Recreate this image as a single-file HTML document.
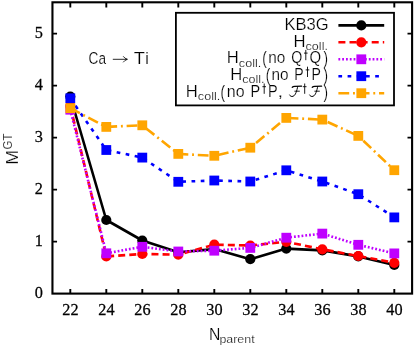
<!DOCTYPE html><html><head><meta charset="utf-8"><style>html,body{margin:0;padding:0;background:#fff}svg{display:block}text{font-family:"Liberation Sans",sans-serif;fill:#000;font-kerning:none;stroke:#fff;stroke-width:0.22px}.s{font-family:"Liberation Serif",serif;stroke:#000;stroke-width:0.25px}</style></head><body>
<svg width="415" height="348" viewBox="0 0 415 348">
<rect width="415" height="348" fill="#fff"/>
<path d="M70.3 293.6v-4.7M70.3 2.3v5.1M106.3 293.6v-4.7M106.3 2.3v5.1M142.3 293.6v-4.7M142.3 2.3v5.1M178.3 293.6v-4.7M178.3 2.3v5.1M214.3 293.6v-4.7M214.3 2.3v5.1M250.3 293.6v-4.7M250.3 2.3v5.1M286.3 293.6v-4.7M286.3 2.3v5.1M322.3 293.6v-4.7M322.3 2.3v5.1M358.3 293.6v-4.7M358.3 2.3v5.1M394.3 293.6v-4.7M394.3 2.3v5.1M52.45 241.6h4.6M412.1 241.6h-4.6M52.45 189.6h4.6M412.1 189.6h-4.6M52.45 137.6h4.6M412.1 137.6h-4.6M52.45 85.6h4.6M412.1 85.6h-4.6M52.45 33.6h4.6M412.1 33.6h-4.6" stroke="#000" stroke-width="1.9" fill="none"/>
<polyline points="70.3,96.5 106.3,220.0 142.3,240.5 178.3,252.2 214.3,249.1 250.3,259.2 286.3,248.6 322.3,250.4 358.3,256.4 394.3,265.0" fill="none" stroke="#000" stroke-width="2.6" stroke-linejoin="round"/>
<circle cx="70.3" cy="96.5" r="5.1" fill="#000"/>
<circle cx="106.3" cy="220.0" r="5.1" fill="#000"/>
<circle cx="142.3" cy="240.5" r="5.1" fill="#000"/>
<circle cx="178.3" cy="252.2" r="5.1" fill="#000"/>
<circle cx="214.3" cy="249.1" r="5.1" fill="#000"/>
<circle cx="250.3" cy="259.2" r="5.1" fill="#000"/>
<circle cx="286.3" cy="248.6" r="5.1" fill="#000"/>
<circle cx="322.3" cy="250.4" r="5.1" fill="#000"/>
<circle cx="358.3" cy="256.4" r="5.1" fill="#000"/>
<circle cx="394.3" cy="265.0" r="5.1" fill="#000"/>
<polyline points="70.3,106.1 106.3,256.4 142.3,254.0 178.3,254.6 214.3,244.7 250.3,245.5 286.3,241.8 322.3,249.3 358.3,256.0 394.3,262.8" fill="none" stroke="#ff0000" stroke-width="2.6" stroke-dasharray="7 4.1" stroke-linejoin="round"/>
<circle cx="70.3" cy="106.1" r="5.1" fill="#ff0000"/>
<circle cx="106.3" cy="256.4" r="5.1" fill="#ff0000"/>
<circle cx="142.3" cy="254.0" r="5.1" fill="#ff0000"/>
<circle cx="178.3" cy="254.6" r="5.1" fill="#ff0000"/>
<circle cx="214.3" cy="244.7" r="5.1" fill="#ff0000"/>
<circle cx="250.3" cy="245.5" r="5.1" fill="#ff0000"/>
<circle cx="286.3" cy="241.8" r="5.1" fill="#ff0000"/>
<circle cx="322.3" cy="249.3" r="5.1" fill="#ff0000"/>
<circle cx="358.3" cy="256.0" r="5.1" fill="#ff0000"/>
<circle cx="394.3" cy="262.8" r="5.1" fill="#ff0000"/>
<polyline points="70.3,109.7 106.3,253.3 142.3,246.8 178.3,251.5 214.3,250.7 250.3,247.9 286.3,237.7 322.3,233.6 358.3,244.8 394.3,253.4" fill="none" stroke="#bf00ff" stroke-width="2.6" stroke-dasharray="1.8 2.0" stroke-linejoin="round"/>
<rect x="65.4" y="104.8" width="9.8" height="9.8" fill="#bf00ff"/>
<rect x="101.4" y="248.4" width="9.8" height="9.8" fill="#bf00ff"/>
<rect x="137.4" y="241.9" width="9.8" height="9.8" fill="#bf00ff"/>
<rect x="173.4" y="246.6" width="9.8" height="9.8" fill="#bf00ff"/>
<rect x="209.4" y="245.8" width="9.8" height="9.8" fill="#bf00ff"/>
<rect x="245.4" y="243.0" width="9.8" height="9.8" fill="#bf00ff"/>
<rect x="281.4" y="232.8" width="9.8" height="9.8" fill="#bf00ff"/>
<rect x="317.4" y="228.7" width="9.8" height="9.8" fill="#bf00ff"/>
<rect x="353.4" y="239.9" width="9.8" height="9.8" fill="#bf00ff"/>
<rect x="389.4" y="248.5" width="9.8" height="9.8" fill="#bf00ff"/>
<polyline points="70.3,98.3 106.3,150.0 142.3,157.6 178.3,181.8 214.3,180.5 250.3,181.5 286.3,170.3 322.3,181.5 358.3,194.2 394.3,217.4" fill="none" stroke="#0000ff" stroke-width="2.6" stroke-dasharray="3.7 5.5" stroke-linejoin="round"/>
<rect x="65.4" y="93.4" width="9.8" height="9.8" fill="#0000ff"/>
<rect x="101.4" y="145.1" width="9.8" height="9.8" fill="#0000ff"/>
<rect x="137.4" y="152.7" width="9.8" height="9.8" fill="#0000ff"/>
<rect x="173.4" y="176.9" width="9.8" height="9.8" fill="#0000ff"/>
<rect x="209.4" y="175.6" width="9.8" height="9.8" fill="#0000ff"/>
<rect x="245.4" y="176.6" width="9.8" height="9.8" fill="#0000ff"/>
<rect x="281.4" y="165.4" width="9.8" height="9.8" fill="#0000ff"/>
<rect x="317.4" y="176.6" width="9.8" height="9.8" fill="#0000ff"/>
<rect x="353.4" y="189.3" width="9.8" height="9.8" fill="#0000ff"/>
<rect x="389.4" y="212.5" width="9.8" height="9.8" fill="#0000ff"/>
<polyline points="70.3,108.2 106.3,126.9 142.3,125.3 178.3,153.9 214.3,155.8 250.3,147.7 286.3,117.9 322.3,119.6 358.3,135.9 394.3,170.2" fill="none" stroke="#ffa500" stroke-width="2.6" stroke-dasharray="10.8 3.8 1.9 3.8" stroke-linejoin="round"/>
<rect x="65.4" y="103.3" width="9.8" height="9.8" fill="#ffa500"/>
<rect x="101.4" y="122.0" width="9.8" height="9.8" fill="#ffa500"/>
<rect x="137.4" y="120.4" width="9.8" height="9.8" fill="#ffa500"/>
<rect x="173.4" y="149.0" width="9.8" height="9.8" fill="#ffa500"/>
<rect x="209.4" y="150.9" width="9.8" height="9.8" fill="#ffa500"/>
<rect x="245.4" y="142.8" width="9.8" height="9.8" fill="#ffa500"/>
<rect x="281.4" y="113.0" width="9.8" height="9.8" fill="#ffa500"/>
<rect x="317.4" y="114.7" width="9.8" height="9.8" fill="#ffa500"/>
<rect x="353.4" y="131.0" width="9.8" height="9.8" fill="#ffa500"/>
<rect x="389.4" y="165.3" width="9.8" height="9.8" fill="#ffa500"/>
<rect x="52.45" y="2.3" width="359.65000000000003" height="291.3" fill="none" stroke="#000" stroke-width="2.1"/>
<rect x="175.9" y="12.8" width="218.1" height="92.6" fill="#fff" stroke="#000" stroke-width="1.8"/>
<path d="M338.4 25.4H384.2" stroke="#000" stroke-width="2.6" fill="none"/>
<circle cx="361.3" cy="25.4" r="5.1" fill="#000"/>
<path d="M338.4 42.3H384.2" stroke="#ff0000" stroke-width="2.6" stroke-dasharray="7 4.1" fill="none"/>
<circle cx="361.3" cy="42.3" r="5.1" fill="#ff0000"/>
<path d="M338.4 59.3H384.2" stroke="#bf00ff" stroke-width="2.6" stroke-dasharray="1.8 2.0" fill="none"/>
<rect x="356.4" y="54.4" width="9.8" height="9.8" fill="#bf00ff"/>
<path d="M338.4 76.25H384.2" stroke="#0000ff" stroke-width="2.6" stroke-dasharray="3.7 5.5" fill="none"/>
<rect x="356.4" y="71.3" width="9.8" height="9.8" fill="#0000ff"/>
<path d="M338.4 93.2H384.2" stroke="#ffa500" stroke-width="2.6" stroke-dasharray="10.8 3.8 1.9 3.8" fill="none"/>
<rect x="356.4" y="88.3" width="9.8" height="9.8" fill="#ffa500"/>
<g opacity="0.999">
<text class="s" transform="translate(70.4,314.8) scale(1.03,1)" font-size="15.8" text-anchor="middle">22</text>
<text class="s" transform="translate(106.4,314.8) scale(1.03,1)" font-size="15.8" text-anchor="middle">24</text>
<text class="s" transform="translate(142.4,314.8) scale(1.03,1)" font-size="15.8" text-anchor="middle">26</text>
<text class="s" transform="translate(178.4,314.8) scale(1.03,1)" font-size="15.8" text-anchor="middle">28</text>
<text class="s" transform="translate(214.4,314.8) scale(1.03,1)" font-size="15.8" text-anchor="middle">30</text>
<text class="s" transform="translate(250.4,314.8) scale(1.03,1)" font-size="15.8" text-anchor="middle">32</text>
<text class="s" transform="translate(286.4,314.8) scale(1.03,1)" font-size="15.8" text-anchor="middle">34</text>
<text class="s" transform="translate(322.4,314.8) scale(1.03,1)" font-size="15.8" text-anchor="middle">36</text>
<text class="s" transform="translate(358.4,314.8) scale(1.03,1)" font-size="15.8" text-anchor="middle">38</text>
<text class="s" transform="translate(394.4,314.8) scale(1.03,1)" font-size="15.8" text-anchor="middle">40</text>
<text class="s" transform="translate(42.9,298.2) scale(1.03,1)" font-size="15.8" text-anchor="end">0</text>
<text class="s" transform="translate(42.9,246.2) scale(1.03,1)" font-size="15.8" text-anchor="end">1</text>
<text class="s" transform="translate(42.9,194.2) scale(1.03,1)" font-size="15.8" text-anchor="end">2</text>
<text class="s" transform="translate(42.9,142.2) scale(1.03,1)" font-size="15.8" text-anchor="end">3</text>
<text class="s" transform="translate(42.9,90.2) scale(1.03,1)" font-size="15.8" text-anchor="end">4</text>
<text class="s" transform="translate(42.9,38.2) scale(1.03,1)" font-size="15.8" text-anchor="end">5</text>
<text transform="translate(88.61,64.1) scale(0.800,1)" font-size="17">Ca</text>
<path d="M112.8 59.3H127.2M123.2 56.3Q124.8 58.6 127.4 59.3Q124.8 60 123.2 62.3" stroke="#000" stroke-width="0.85" fill="none"/>
<text transform="translate(133.79,64.1) scale(1.076,1)" font-size="17">Ti</text>
<text transform="translate(208.91,340.1) scale(0.927,1)" font-size="17">N</text>
<text transform="translate(219.40,342.6) scale(1.174,1)" font-size="10.6">parent</text>
<g transform="translate(17.5,163.2) rotate(-90)">
<text transform="translate(-1.46,0) scale(1.046,1)" font-size="17">M</text>
<text transform="translate(13.72,-6) scale(0.947,1)" font-size="12.2">GT</text>
</g>
<text transform="translate(284.44,29.5) scale(0.974,1)" font-size="17">KB3G</text>
<text transform="translate(293.53,47.1) scale(0.979,1)" font-size="17">H</text>
<text transform="translate(305.57,50.0) scale(1.187,1)" font-size="10.6">coll.</text>
<text transform="translate(226.83,63.1) scale(0.979,1)" font-size="17">H</text>
<text transform="translate(238.87,66.5) scale(1.187,1)" font-size="10.6">coll.</text>
<text transform="translate(262.36,64.1) scale(0.799,1.05)" font-size="17">(</text>
<text transform="translate(268.18,63.1) scale(0.902,1)" font-size="17">no</text>
<text transform="translate(291.33,63.1) scale(0.836,1)" font-size="17">Q</text>
<path d="M305.8 49.900000000000006v10.3M304.0 53.1h3.6" stroke="#000" stroke-width="0.9" fill="none"/>
<text transform="translate(309.59,63.1) scale(0.879,1)" font-size="17">Q</text>
<text transform="translate(323.52,64.1) scale(0.799,1.05)" font-size="17">)</text>
<text transform="translate(230.13,79.9) scale(0.979,1)" font-size="17">H</text>
<text transform="translate(242.17,83.30000000000001) scale(1.187,1)" font-size="10.6">coll.</text>
<text transform="translate(265.66,80.9) scale(0.799,1.05)" font-size="17">(</text>
<text transform="translate(271.38,79.9) scale(0.902,1)" font-size="17">no</text>
<text transform="translate(294.14,79.9) scale(0.829,1)" font-size="17">P</text>
<path d="M307.5 66.7v10.3M305.7 69.9h3.6" stroke="#000" stroke-width="0.9" fill="none"/>
<text transform="translate(311.44,79.9) scale(0.829,1)" font-size="17">P</text>
<text transform="translate(323.52,80.9) scale(0.799,1.05)" font-size="17">)</text>
<text transform="translate(185.83,96.7) scale(0.979,1)" font-size="17">H</text>
<text transform="translate(197.87,100.10000000000001) scale(1.187,1)" font-size="10.6">coll.</text>
<text transform="translate(220.46,97.7) scale(0.799,1.05)" font-size="17">(</text>
<text transform="translate(226.84,96.7) scale(0.938,1)" font-size="17">no</text>
<text transform="translate(250.61,96.7) scale(0.851,1)" font-size="17">P</text>
<path d="M264.2 83.5v10.3M262.4 86.7h3.6" stroke="#000" stroke-width="0.9" fill="none"/>
<text transform="translate(268.01,96.7) scale(0.851,1)" font-size="17">P</text>
<text transform="translate(277.47,96.7) scale(1.199,1)" font-size="17">,</text>
<g transform="translate(289.2,96.7)" fill="none" stroke="#000" stroke-linecap="round"><path d="M3.0 -9.4Q3.8 -10.5 5.8 -10.4L12.4 -10.5" stroke-width="1.3"/><path d="M8.5 -10.3C7.7 -6 6.4 -1.3 3.8 -0.4C2.3 0.1 0.9 -0.5 0.4 -1.7" stroke-width="1"/><path d="M5.6 -5.5H10.2" stroke-width="0.9"/></g>
<path d="M304.7 83.5v10.3M302.9 86.7h3.6" stroke="#000" stroke-width="0.9" fill="none"/>
<g transform="translate(309.2,96.7)" fill="none" stroke="#000" stroke-linecap="round"><path d="M3.0 -9.4Q3.8 -10.5 5.8 -10.4L12.4 -10.5" stroke-width="1.3"/><path d="M8.5 -10.3C7.7 -6 6.4 -1.3 3.8 -0.4C2.3 0.1 0.9 -0.5 0.4 -1.7" stroke-width="1"/><path d="M5.6 -5.5H10.2" stroke-width="0.9"/></g>
<text transform="translate(323.52,97.7) scale(0.799,1.05)" font-size="17">)</text>
</g>
</svg></body></html>
